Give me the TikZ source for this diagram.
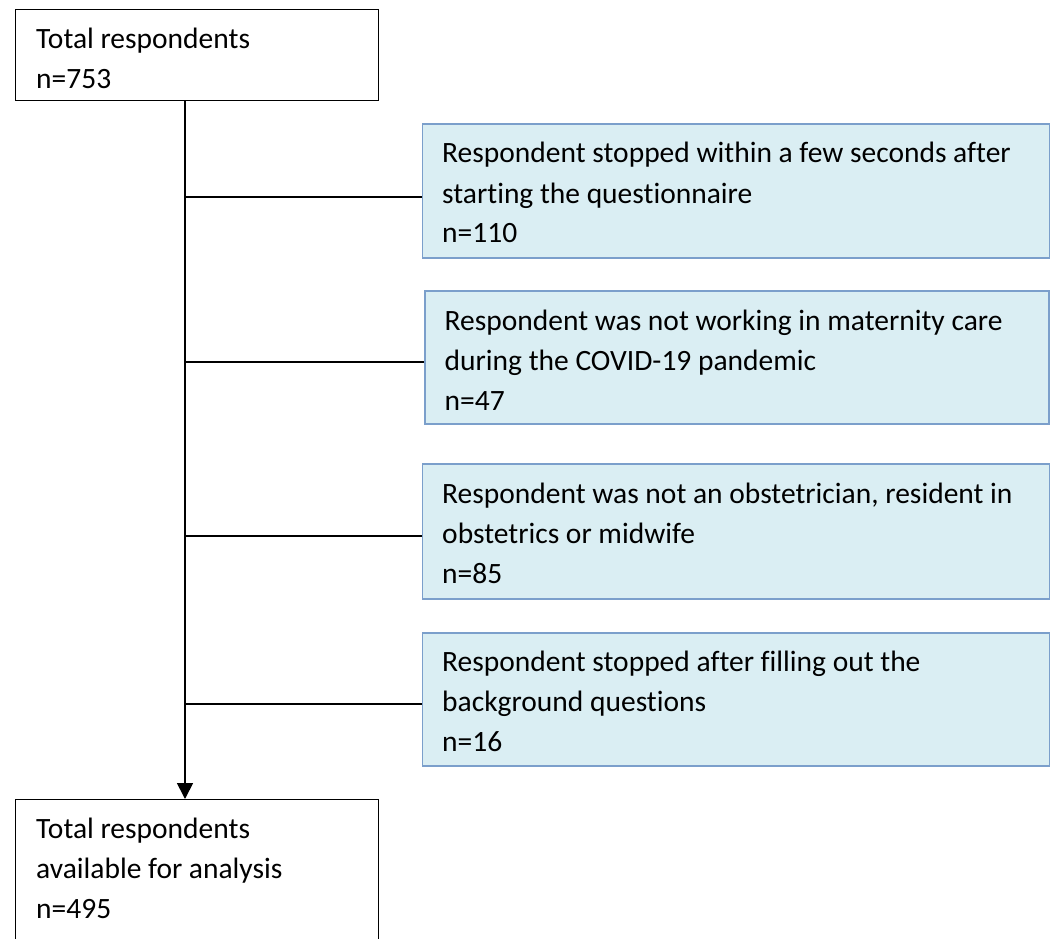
\documentclass[tikz,border=0pt]{standalone}
\usepackage{fontspec}
\setmainfont{Carlito}[Ligatures=NoCommon]
\usetikzlibrary{arrows.meta,calc}
\definecolor{boxfill}{HTML}{DAEEF3}
\definecolor{boxline}{HTML}{7B9FCB}
\begin{document}
\begin{tikzpicture}[x=1pt,y=-1pt,
  whitebox/.style={draw=black,line width=1.3pt,fill=white,anchor=north west,inner sep=0pt},
  bluebox/.style={draw=boxline,line width=1.6pt,fill=boxfill,anchor=north west,inner sep=0pt,minimum width=627pt},
  txt/.style={anchor=base west,inner sep=0pt,font=\fontsize{29.5}{40}\selectfont},
  conn/.style={draw=black,line width=1.7pt},
  arr/.style={conn,-{Triangle[width=16pt,length=16pt]}}]
\useasboundingbox (0,0) rectangle (1052,939);
\clip (0,0) rectangle (1052,939);
% boxes
\node[whitebox,minimum width=363pt,minimum height=91pt] (top) at (15,9) {};
\node[bluebox,minimum height=134pt] (b1) at (421.5,123) {};
\node[bluebox,minimum width=624pt,minimum height=133pt] (b2) at (424,290) {};
\node[bluebox,minimum height=135pt] (b3) at (421.5,463) {};
\node[bluebox,minimum height=133pt] (b4) at (421.5,632) {};
\node[whitebox,minimum width=363pt,minimum height=200pt] (bot) at (15,799) {};
% texts
\node[txt] (ttop) at ($(top.north west)+(21,39.5)$) {\begin{tabular}[t]{@{}l@{}}Total respondents\\ n=753\end{tabular}};
\node[txt] (t1) at ($(b1.north west)+(20.5,40)$) {\begin{tabular}[t]{@{}l@{}}Respondent stopped within a few seconds after\\ starting the questionnaire\\ n=110\end{tabular}};
\node[txt] (t2) at ($(b2.north west)+(20.5,40)$) {\begin{tabular}[t]{@{}l@{}}Respondent was not working in maternity care\\ during the COVID-19 pandemic\\ n=47\end{tabular}};
\node[txt] (t3) at ($(b3.north west)+(20.5,40)$) {\begin{tabular}[t]{@{}l@{}}Respondent was not an obstetrician, resident in\\ obstetrics or midwife\\ n=85\end{tabular}};
\node[txt] (t4) at ($(b4.north west)+(20.5,39.5)$) {\begin{tabular}[t]{@{}l@{}}Respondent stopped after filling out the\\ background questions\\ n=16\end{tabular}};
\node[txt] (tbot) at ($(bot.north west)+(21,39.5)$) {\begin{tabular}[t]{@{}l@{}}Total respondents\\ available for analysis\\ n=495\end{tabular}};
% connectors
\coordinate (spine) at (185,0);
\draw[arr] (top.south -| spine) -- (bot.north -| spine);
\coordinate (j1) at ($(b1.west)+(0,6)$);
\coordinate (j2) at ($(b2.west)+(0,4.5)$);
\coordinate (j3) at ($(b3.west)+(0,4.5)$);
\coordinate (j4) at ($(b4.west)+(0,4.5)$);
\draw[conn] (j1 -| spine) -- (j1);
\draw[conn] (j2 -| spine) -- (j2);
\draw[conn] (j3 -| spine) -- (j3);
\draw[conn] (j4 -| spine) -- (j4);
\end{tikzpicture}
\end{document}
